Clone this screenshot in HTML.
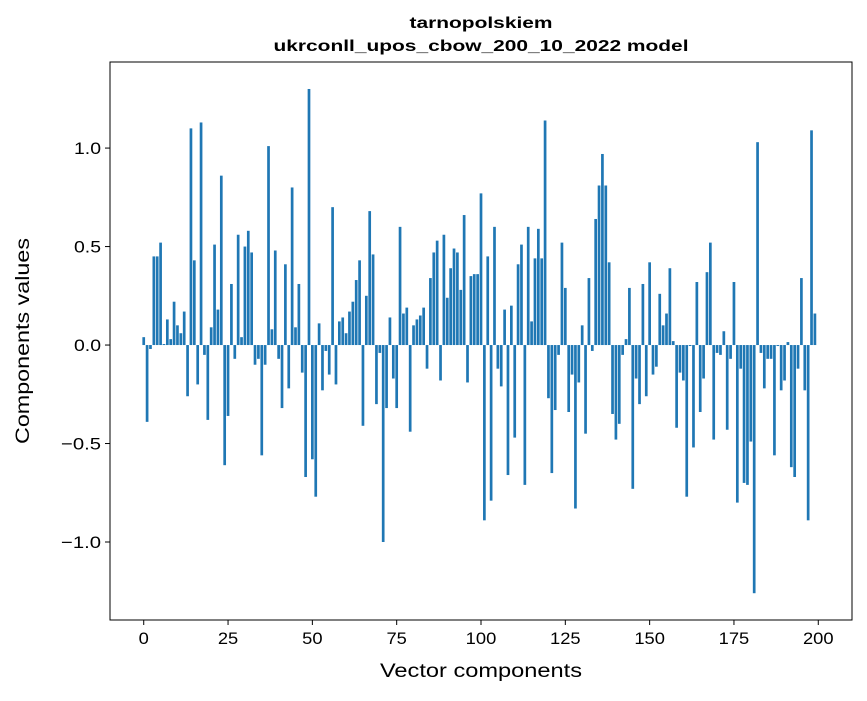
<!DOCTYPE html>
<html><head><meta charset="utf-8"><style>
body{margin:0;background:#fff;}
svg text{font-family:"Liberation Sans",sans-serif;fill:#000;}
</style></head><body>
<svg id="chart" width="867" height="696">
<text x="481" y="28" text-anchor="middle" font-size="16" font-weight="bold" textLength="143" lengthAdjust="spacingAndGlyphs">tarnopolskiem</text>
<text x="481" y="51" text-anchor="middle" font-size="16" font-weight="bold" textLength="415" lengthAdjust="spacingAndGlyphs">ukrconll_upos_cbow_200_10_2022 model</text>
<g id="bars"></g>
<rect x="110" y="62" width="742" height="558" fill="none" stroke="#000" stroke-width="1"/>
<g id="xticks"></g>
<g id="yticks"></g>
<text x="481" y="677" text-anchor="middle" font-size="19" textLength="202" lengthAdjust="spacingAndGlyphs">Vector components</text>
<text x="29" y="341" text-anchor="middle" font-size="19" textLength="206" lengthAdjust="spacingAndGlyphs" transform="rotate(-90 29 341)">Components values</text>
</svg>
<script>
const values = [0.04,-0.39,-0.02,0.45,0.45,0.52,0.005,0.13,0.03,0.22,
0.10,0.06,0.17,-0.26,1.10,0.43,-0.20,1.13,-0.05,-0.38,
0.09,0.51,0.18,0.86,-0.61,-0.36,0.31,-0.07,0.56,0.04,
0.50,0.58,0.47,-0.10,-0.07,-0.56,-0.10,1.01,0.08,0.48,
-0.07,-0.32,0.41,-0.22,0.80,0.09,0.31,-0.14,-0.67,1.30,
-0.58,-0.77,0.11,-0.23,-0.03,-0.15,0.70,-0.20,0.12,0.14,
0.06,0.17,0.22,0.33,0.43,-0.41,0.25,0.68,0.46,-0.30,
-0.04,-1.00,-0.32,0.14,-0.17,-0.32,0.60,0.16,0.19,-0.44,
0.10,0.13,0.15,0.19,-0.12,0.34,0.47,0.53,-0.18,0.56,
0.24,0.39,0.49,0.47,0.28,0.66,-0.19,0.35,0.36,0.36,
0.77,-0.89,0.45,-0.79,0.60,-0.12,-0.21,0.18,-0.66,0.20,
-0.47,0.41,0.51,-0.71,0.60,0.12,0.44,0.59,0.44,1.14,
-0.27,-0.65,-0.33,-0.05,0.52,0.29,-0.34,-0.15,-0.83,-0.19,
0.10,-0.45,0.34,-0.03,0.64,0.81,0.97,0.81,0.42,-0.35,
-0.48,-0.40,-0.05,0.03,0.29,-0.73,-0.17,-0.30,0.31,-0.26,
0.42,-0.15,-0.11,0.26,0.10,0.16,0.39,0.02,-0.42,-0.14,
-0.18,-0.77,-0.005,-0.52,0.32,-0.34,-0.17,0.37,0.52,-0.48,
-0.04,-0.05,0.07,-0.43,-0.07,0.32,-0.80,-0.12,-0.70,-0.71,
-0.49,-1.26,1.03,-0.04,-0.22,-0.07,-0.07,-0.56,-0.005,-0.23,
-0.18,0.015,-0.62,-0.67,-0.12,0.34,-0.23,-0.89,1.09,0.16];
const xTicks = [0,25,50,75,100,125,150,175,200];
const yTicks = [-1.0,-0.5,0.0,0.5,1.0];
const yTickLabels = ["\u22121.0","\u22120.5","0.0","0.5","1.0"];

const NS="http://www.w3.org/2000/svg";
const X0=110,X1=852,Y0=62,Y1=620,xmin=-10,xmax=210,ymin=-1.396,ymax=1.437;
function xs(v){return X0+(v-xmin)/(xmax-xmin)*(X1-X0);}
function ys(v){return Y1-(v-ymin)/(ymax-ymin)*(Y1-Y0);}
const bw=(xs(0.8)-xs(0));
const gb=document.getElementById('bars');
values.forEach((v,i)=>{
  const r=document.createElementNS(NS,'rect');
  const y=Math.min(ys(v),ys(0)),h=Math.abs(ys(v)-ys(0));
  r.setAttribute('x',xs(i)-bw/2);r.setAttribute('y',y);
  r.setAttribute('width',bw);r.setAttribute('height',h);
  r.setAttribute('fill','#1f77b4');
  
  
  gb.appendChild(r);
});
const charW=10.2;
const gx=document.getElementById('xticks');
xTicks.forEach(t=>{
  const x=xs(t);
  const l=document.createElementNS(NS,'line');
  l.setAttribute('x1',x);l.setAttribute('x2',x);l.setAttribute('y1',Y1);l.setAttribute('y2',Y1+5);
  l.setAttribute('stroke','#000');
  
  
  gx.appendChild(l);
  const tx=document.createElementNS(NS,'text');
  tx.setAttribute('x',x);tx.setAttribute('y',Y1+24);tx.setAttribute('text-anchor','middle');tx.setAttribute('font-size','17');
  tx.setAttribute('textLength',String(t).length*charW);tx.setAttribute('lengthAdjust','spacingAndGlyphs');
  tx.textContent=t;
  
  
  gx.appendChild(tx);
});
const gy=document.getElementById('yticks');
yTicks.forEach((t,i)=>{
  const y=ys(t);
  const l=document.createElementNS(NS,'line');
  l.setAttribute('x1',X0-5);l.setAttribute('x2',X0);l.setAttribute('y1',y);l.setAttribute('y2',y);
  l.setAttribute('stroke','#000');
  
  
  gy.appendChild(l);
  const tx=document.createElementNS(NS,'text');
  tx.setAttribute('x',X0-9);tx.setAttribute('y',y+6);tx.setAttribute('text-anchor','end');tx.setAttribute('font-size','17');
  const lab=yTickLabels[i];
  tx.setAttribute('textLength',lab.length===4?40:27);tx.setAttribute('lengthAdjust','spacingAndGlyphs');
  tx.textContent=lab;
  
  
  gy.appendChild(tx);
});
</script>
</body></html>
